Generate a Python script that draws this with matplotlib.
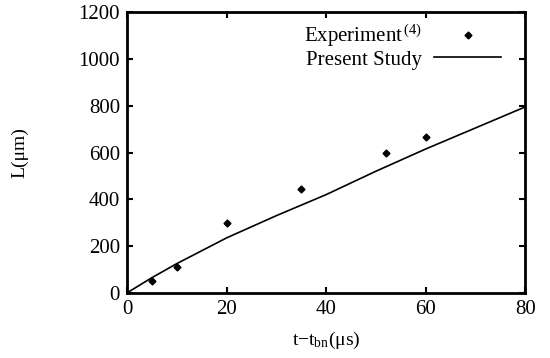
import matplotlib.pyplot as plt

plt.rcParams['font.family'] = ['Liberation Serif', 'DejaVu Serif']
plt.rcParams['mathtext.fontset'] = 'custom'
plt.rcParams['mathtext.rm'] = 'Liberation Serif'
plt.rcParams['mathtext.it'] = 'Liberation Serif:italic'

exp_t = [5, 10, 20, 35, 52, 60]
exp_L = [50, 110, 300, 445, 600, 665]

model_t = [0, 5, 10, 15, 20, 30, 40, 50, 60, 70, 80]
model_L = [0, 65, 125, 180, 235, 330, 420, 520, 615, 705, 795]

fig = plt.figure(figsize=(5.5, 3.58), dpi=100)
ax = fig.add_axes([0.231, 0.182, 0.724, 0.784])

ax.plot(exp_t, exp_L, linestyle='none', marker='D', markersize=3.5,
        color='black', label=r'Experiment$^{\,\rm (4)}$')
ax.plot(model_t, model_L, color='black', linewidth=1.2, label='Present Study')

ax.set_xlim(0, 80)
ax.set_ylim(0, 1200)
ax.set_xticks([0, 20, 40, 60, 80])
ax.set_yticks([0, 200, 400, 600, 800, 1000, 1200])
ax.tick_params(direction='in', top=True, right=True, length=4, width=1.5,
               labelsize=15, pad=5)
for s in ax.spines.values():
    s.set_linewidth(2)

ax.set_xlabel('t\u2212t$_{\\rm bn}$(\u03bcs)', fontsize=14, labelpad=8)
ax.set_ylabel('L(\u03bcm)', fontsize=14, labelpad=36)

ax.legend(loc='upper right', frameon=False, markerfirst=False, fontsize=15,
          handlelength=3.2, handletextpad=0.6, borderaxespad=0.1,
          labelspacing=0.05, bbox_to_anchor=(0.965, 1.0))

fig.savefig('out.png', dpi=100)
